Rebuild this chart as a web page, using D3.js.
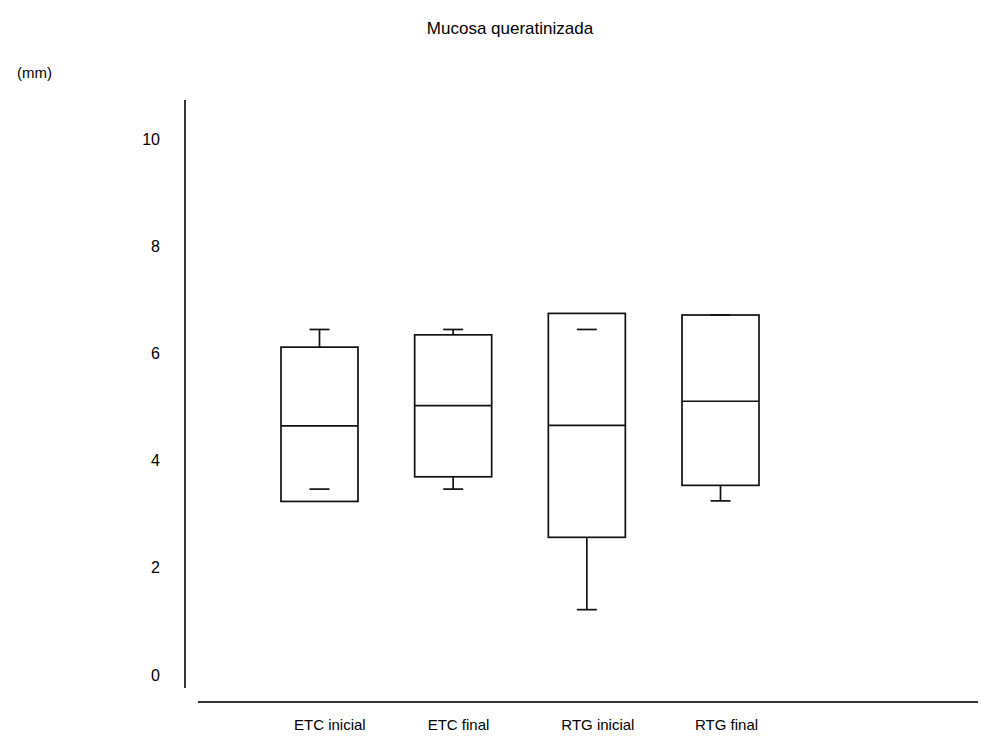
<!DOCTYPE html>
<html>
<head>
<meta charset="utf-8">
<script src="https://cdn.jsdelivr.net/npm/d3@7"></script>
<style>
html,body{margin:0;padding:0;background:#fff;}
svg{display:block;}
text{font-family:"Liberation Sans","Arial",sans-serif;fill:#000;}
</style>
</head>
<body>
<svg id="chart" width="981" height="745"></svg>
<script>
const categories = ["ETC inicial", "ETC final", "RTG inicial", "RTG final"];
const q1 = [3.24, 3.70, 2.57, 3.54];
const median = [4.65, 5.03, 4.66, 5.11];
const q3 = [6.12, 6.35, 6.75, 6.72];
const whiskerLow = [3.47, 3.47, 1.22, 3.25];
const whiskerHigh = [6.45, 6.45, 6.45, 6.72];
const yTicks = [0, 2, 4, 6, 8, 10];
const title = "Mucosa queratinizada";
const unitLabel = "(mm)";

const svg = d3.select("#chart");
const y = d3.scaleLinear().domain([0, 10]).range([675, 139.3]);
const x = d3.scalePoint().domain(categories).range([319.5, 720.5]);
const boxW = 77, capW = 20;
const stroke = "#111", sw = 1.7;

// title and unit
svg.append("text").attr("x", 510).attr("y", 34).attr("text-anchor", "middle")
  .attr("font-size", 17).text(title);
svg.append("text").attr("x", 17).attr("y", 78).attr("font-size", 15).text(unitLabel);

// y axis
svg.append("line").attr("x1", 185).attr("x2", 185).attr("y1", 100).attr("y2", 688)
  .attr("stroke", stroke).attr("stroke-width", sw);
svg.selectAll("text.ytick").data(yTicks).enter().append("text")
  .attr("class", "ytick").attr("x", 160).attr("y", d => y(d))
  .attr("text-anchor", "end").attr("dominant-baseline", "central")
  .attr("font-size", 16).text(d => d);

// x axis
svg.append("line").attr("x1", 198).attr("x2", 978).attr("y1", 702).attr("y2", 702)
  .attr("stroke", "#333").attr("stroke-width", 2);
svg.selectAll("text.xtick").data(categories).enter().append("text")
  .attr("class", "xtick").attr("x", d => x(d) - 25.5).attr("y", 730)
  .attr("font-size", 15).text(d => d);

// boxes
const data = categories.map((c, i) => ({c, q1: q1[i], med: median[i], q3: q3[i], lo: whiskerLow[i], hi: whiskerHigh[i]}));
const g = svg.selectAll("g.box").data(data).enter().append("g").attr("class", "box");

g.append("rect")
  .attr("x", d => x(d.c) - boxW / 2).attr("width", boxW)
  .attr("y", d => y(d.q3)).attr("height", d => y(d.q1) - y(d.q3))
  .attr("fill", "none").attr("stroke", stroke).attr("stroke-width", sw);
g.append("line")
  .attr("x1", d => x(d.c) - boxW / 2).attr("x2", d => x(d.c) + boxW / 2)
  .attr("y1", d => y(d.med)).attr("y2", d => y(d.med))
  .attr("stroke", stroke).attr("stroke-width", sw);
// upper whisker stem (only if outside box)
g.filter(d => d.hi > d.q3).append("line")
  .attr("x1", d => x(d.c)).attr("x2", d => x(d.c))
  .attr("y1", d => y(d.q3)).attr("y2", d => y(d.hi))
  .attr("stroke", stroke).attr("stroke-width", sw);
// lower whisker stem
g.filter(d => d.lo < d.q1).append("line")
  .attr("x1", d => x(d.c)).attr("x2", d => x(d.c))
  .attr("y1", d => y(d.q1)).attr("y2", d => y(d.lo))
  .attr("stroke", stroke).attr("stroke-width", sw);
// caps
g.append("line")
  .attr("x1", d => x(d.c) - capW / 2).attr("x2", d => x(d.c) + capW / 2)
  .attr("y1", d => y(d.hi)).attr("y2", d => y(d.hi))
  .attr("stroke", stroke).attr("stroke-width", sw);
g.append("line")
  .attr("x1", d => x(d.c) - capW / 2).attr("x2", d => x(d.c) + capW / 2)
  .attr("y1", d => y(d.lo)).attr("y2", d => y(d.lo))
  .attr("stroke", stroke).attr("stroke-width", sw);
</script>
</body>
</html>
